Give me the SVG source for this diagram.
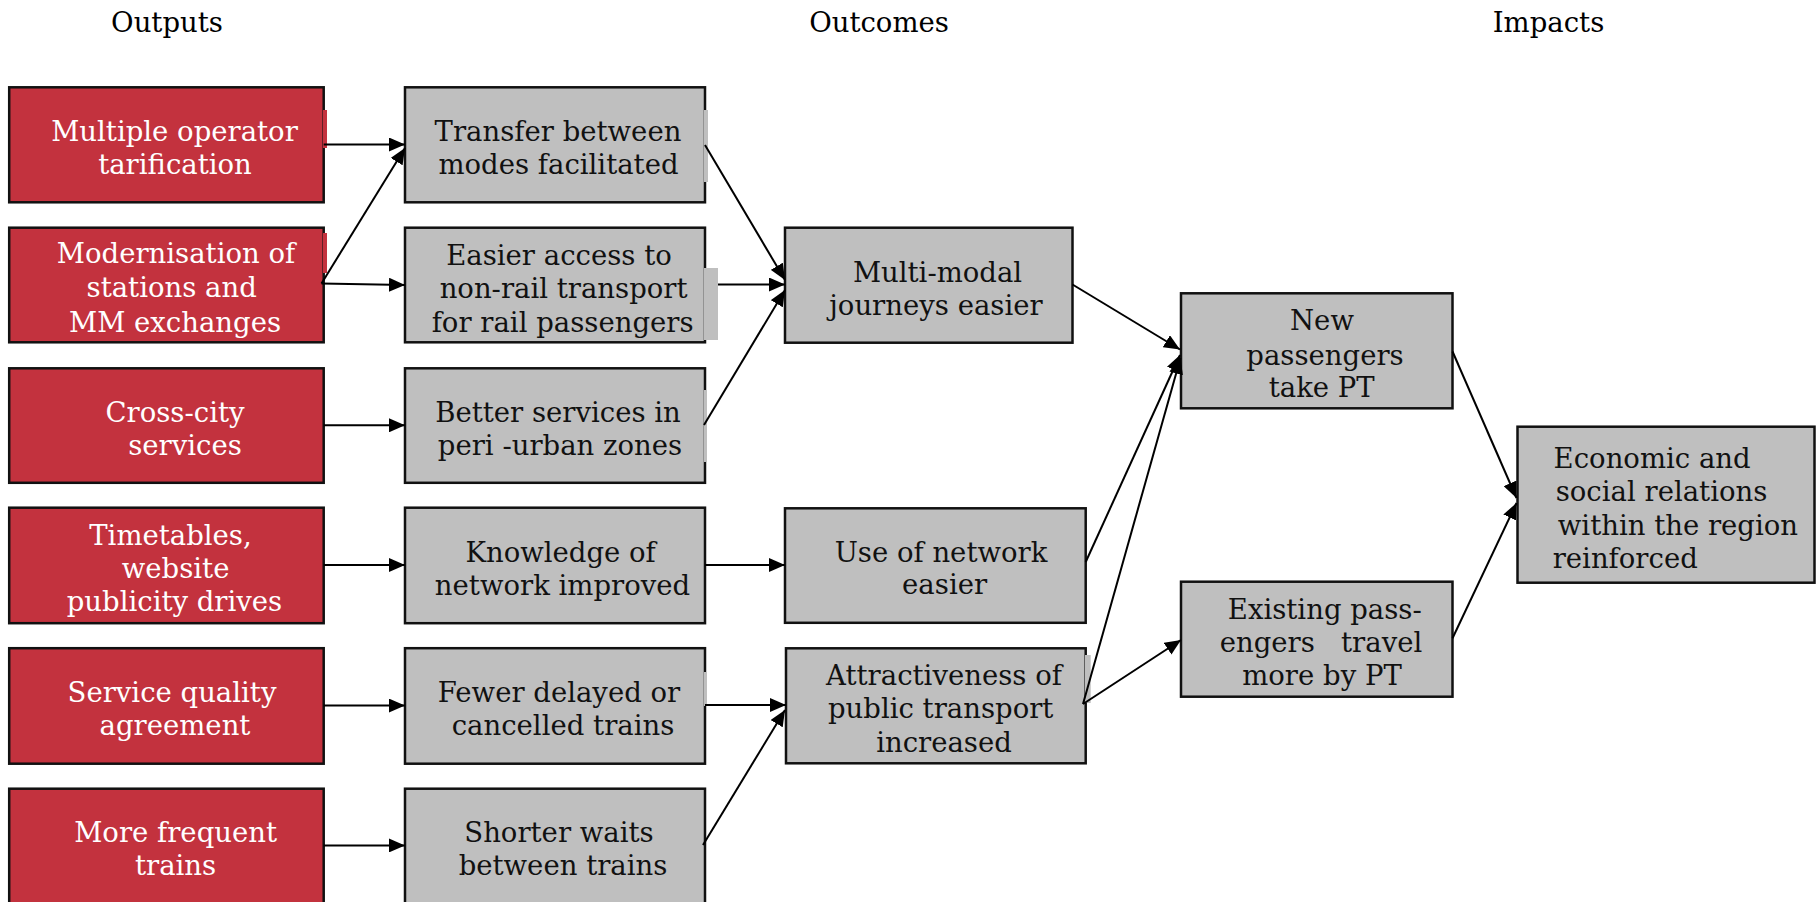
<svg xmlns="http://www.w3.org/2000/svg" width="1816" height="902" viewBox="0 0 1816 902">
<style>
  text { font-family: "DejaVu Serif", "Liberation Serif", serif; font-size: 27.5px; text-anchor: middle; }
  .hdr { fill: #000; font-size: 27.5px; }
  .red rect.box { fill: #C3323E; stroke: #111; stroke-width: 2.5; }
  .red text { fill: #fff; }
  .gray rect.box { fill: #BFBFBF; stroke: #111; stroke-width: 2.5; }
  .gray text { fill: #111; }
  .sliver-r { fill: #C3323E; }
  .sliver-g { fill: #BFBFBF; }
  #connectors line { stroke: #000; stroke-width: 2; marker-end: url(#arr); }
</style>
<defs>
  <marker id="arr" markerUnits="userSpaceOnUse" markerWidth="16" markerHeight="14" refX="16" refY="7" orient="auto">
    <path d="M0,0 L16,7 L0,14 z" fill="#000"/>
  </marker>
</defs>
<rect width="1816" height="902" fill="#fff"/>

<g id="headers">
  <text class="hdr" x="167" y="31.5">Outputs</text>
  <text class="hdr" x="879" y="31.5">Outcomes</text>
  <text class="hdr" x="1548.5" y="31.5">Impacts</text>
</g>

<!-- Outputs column -->
<g id="out1" class="red">
  <rect class="box" x="9.2" y="87.3" width="314.5" height="115"/>
  <rect class="sliver-r" x="323" y="110" width="4" height="38"/>
  <text x="174.5" y="140.7">Multiple operator</text>
  <text x="175" y="174">tarification</text>
</g>
<g id="out2" class="red">
  <rect class="box" x="9.2" y="227.7" width="314.5" height="114.6"/>
  <rect class="sliver-r" x="323" y="233" width="4" height="40"/>
  <text x="176" y="263.3">Modernisation of</text>
  <text x="171.7" y="296.7">stations and</text>
  <text x="175" y="331.7">MM exchanges</text>
</g>
<g id="out3" class="red">
  <rect class="box" x="9.2" y="368.3" width="314.5" height="114.5"/>
  <text x="175" y="421.7">Cross-city</text>
  <text x="185" y="455.4">services</text>
</g>
<g id="out4" class="red">
  <rect class="box" x="9.2" y="507.7" width="314.5" height="115.5"/>
  <text x="170.5" y="545">Timetables,</text>
  <text x="175.6" y="578.3">website</text>
  <text x="174.5" y="611.3">publicity drives</text>
</g>
<g id="out5" class="red">
  <rect class="box" x="9.2" y="648.2" width="314.5" height="115.5"/>
  <text x="172" y="702">Service quality</text>
  <text x="175" y="735">agreement</text>
</g>
<g id="out6" class="red">
  <rect class="box" x="9.2" y="788.7" width="314.5" height="116"/>
  <text x="175.6" y="841.8">More frequent</text>
  <text x="175.6" y="874.8">trains</text>
</g>

<!-- Outcomes column 1 -->
<g id="oc1" class="gray">
  <rect class="box" x="405" y="87.3" width="300" height="115"/>
  <rect class="sliver-g" x="704" y="110" width="4" height="72"/>
  <text x="558" y="140.7">Transfer between</text>
  <text x="558.5" y="174">modes facilitated</text>
</g>
<g id="oc2" class="gray">
  <rect class="box" x="405" y="227.7" width="300" height="114.6"/>
  <rect class="sliver-g" x="704" y="268" width="14" height="72"/>
  <text x="559" y="265">Easier access to</text>
  <text x="563.6" y="297.7">non-rail transport</text>
  <text x="562.6" y="331.7">for rail passengers</text>
</g>
<g id="oc3" class="gray">
  <rect class="box" x="405" y="368.3" width="300" height="114.5"/>
  <rect class="sliver-g" x="704" y="390" width="3" height="72"/>
  <text x="558" y="421.7">Better services in</text>
  <text x="560" y="455.4">peri -urban zones</text>
</g>
<g id="oc4" class="gray">
  <rect class="box" x="405" y="507.7" width="300" height="115.5"/>
  <text x="560.6" y="562.2">Knowledge of</text>
  <text x="562.5" y="595.2">network improved</text>
</g>
<g id="oc5" class="gray">
  <rect class="box" x="405" y="648.2" width="300" height="115.5"/>
  <rect class="sliver-g" x="704" y="672" width="3" height="34"/>
  <text x="559" y="702">Fewer delayed or</text>
  <text x="563" y="735">cancelled trains</text>
</g>
<g id="oc6" class="gray">
  <rect class="box" x="405" y="788.7" width="300" height="116"/>
  <text x="559" y="841.8">Shorter waits</text>
  <text x="563" y="874.8">between trains</text>
</g>

<!-- Outcomes column 2 -->
<g id="oc7" class="gray">
  <rect class="box" x="785" y="227.7" width="287.5" height="115"/>
  <text x="937.5" y="281.7">Multi-modal</text>
  <text x="936" y="315">journeys easier</text>
</g>
<g id="oc8" class="gray">
  <rect class="box" x="785" y="508.3" width="300.7" height="114.5"/>
  <text x="941" y="561.7">Use of network</text>
  <text x="944.6" y="594">easier</text>
</g>
<g id="oc9" class="gray">
  <rect class="box" x="786" y="648.3" width="299.7" height="115"/>
  <rect class="sliver-g" x="1085" y="655" width="5.7" height="48"/>
  <text x="944" y="685">Attractiveness of</text>
  <text x="940.7" y="718.3">public transport</text>
  <text x="944" y="751.7">increased</text>
</g>

<!-- Impacts -->
<g id="im1" class="gray">
  <rect class="box" x="1181" y="293.3" width="271.5" height="115"/>
  <text x="1322" y="330">New</text>
  <text x="1325" y="364.5">passengers</text>
  <text x="1321.7" y="397.3">take PT</text>
</g>
<g id="im2" class="gray">
  <rect class="box" x="1181" y="581.7" width="271.5" height="115"/>
  <text x="1324.8" y="619.3">Existing pass-</text>
  <text x="1321" y="651.7" xml:space="preserve">engers   travel</text>
  <text x="1322" y="685">more by PT</text>
</g>
<g id="im3" class="gray">
  <rect class="box" x="1517.5" y="426.7" width="297" height="156"/>
  <text x="1553.6" y="468.3" style="text-anchor:start">Economic and</text>
  <text x="1555.7" y="500.7" style="text-anchor:start">social relations</text>
  <text x="1557.8" y="535" style="text-anchor:start">within the region</text>
  <text x="1552.7" y="568.3" style="text-anchor:start">reinforced</text>
</g>

<g id="connectors">
  <line x1="323.7" y1="144.5" x2="405" y2="144.5"/>
  <line x1="321.5" y1="283.5" x2="405" y2="148"/>
  <line x1="321.5" y1="283.5" x2="405" y2="285"/>
  <line x1="323.7" y1="425.3" x2="405" y2="425.3"/>
  <line x1="323.7" y1="565" x2="405" y2="565"/>
  <line x1="323.7" y1="705.6" x2="405" y2="705.6"/>
  <line x1="323.7" y1="845.4" x2="405" y2="845.4"/>

  <line x1="705" y1="145" x2="785" y2="280"/>
  <line x1="718" y1="284.5" x2="785" y2="284.5"/>
  <line x1="704" y1="425" x2="785" y2="290"/>
  <line x1="705" y1="565" x2="785" y2="565"/>
  <line x1="705" y1="705" x2="786" y2="705"/>
  <line x1="703" y1="845" x2="785" y2="710"/>

  <line x1="1072.5" y1="284.5" x2="1180" y2="349.5"/>
  <line x1="1085.7" y1="562" x2="1180" y2="355"/>
  <line x1="1083" y1="704" x2="1180.5" y2="358"/>
  <line x1="1083" y1="704" x2="1181" y2="640"/>

  <line x1="1452.5" y1="351.5" x2="1516.5" y2="498"/>
  <line x1="1452.5" y1="638.3" x2="1516.5" y2="503"/>
</g>
</svg>
